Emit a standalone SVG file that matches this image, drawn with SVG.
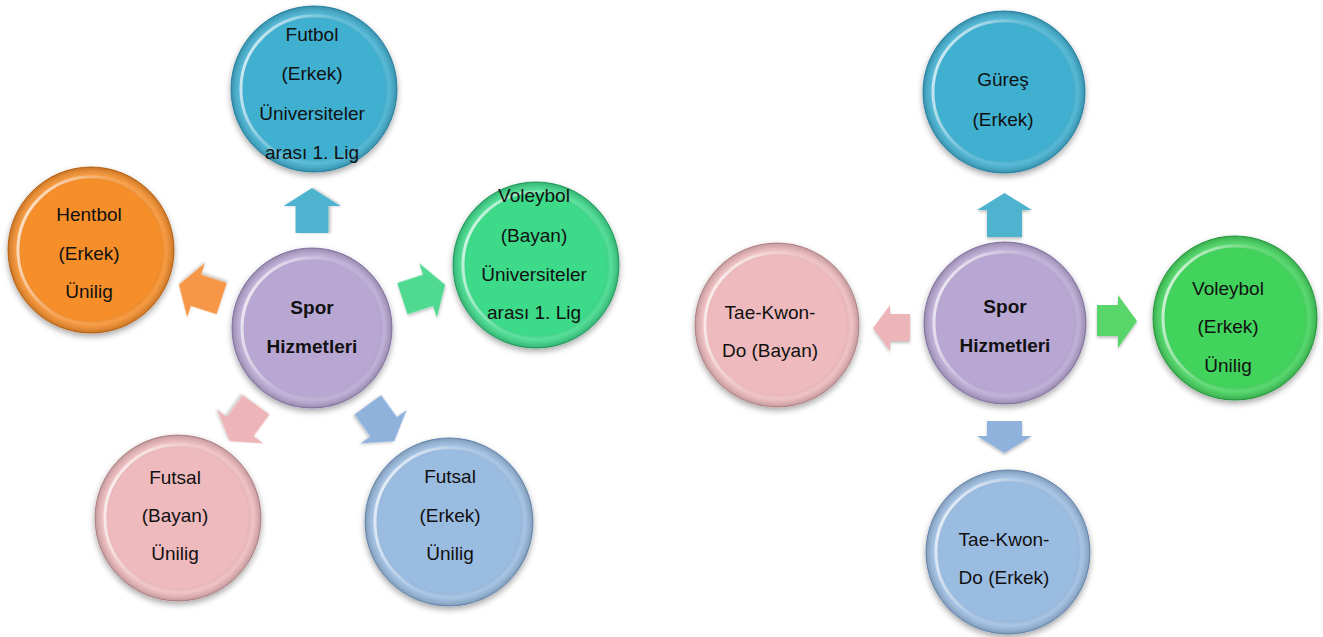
<svg xmlns="http://www.w3.org/2000/svg" width="1323" height="637" viewBox="0 0 1323 637">
<style>
text{font-family:"Liberation Sans",Arial,sans-serif;font-size:19px;fill:#111;text-anchor:middle}
.b{font-weight:bold}
.aqua{fill:#40B0D1;stroke:#2D8DAE;stroke-width:1}
.orange{fill:#F68E2C;stroke:#C86E1C;stroke-width:1}
.purple{fill:#B8A7D3;stroke:#8F7CB0;stroke-width:1}
.green1{fill:#3DDA8A;stroke:#24A866;stroke-width:1}
.green2{fill:#43D35B;stroke:#2AA543;stroke-width:1}
.pink{fill:#EEBABD;stroke:#C08F93;stroke-width:1}
.blue{fill:#9BBCE1;stroke:#6F93BD;stroke-width:1}
.rim{fill:url(#rim)}
.hl{fill:none;stroke:url(#hl);stroke-width:3}
.a-aqua{fill:#4EB3CE}
.a-orange{fill:#F79646}
.a-green1{fill:#4FD991}
.a-green2{fill:#58D66B}
.a-pink{fill:#EDB5B8}
.a-blue{fill:#8FB2DD}
.arr{filter:url(#ash)}
</style>
<defs>
<filter id="sh" x="-20%" y="-20%" width="140%" height="145%">
<feGaussianBlur in="SourceAlpha" stdDeviation="3"/>
<feOffset dy="3" result="o"/>
<feComponentTransfer><feFuncA type="linear" slope="0.35"/></feComponentTransfer>
<feMerge><feMergeNode/><feMergeNode in="SourceGraphic"/></feMerge>
</filter>
<filter id="ash" x="-30%" y="-30%" width="160%" height="160%">
<feGaussianBlur in="SourceAlpha" stdDeviation="1.5"/>
<feOffset dy="2" result="o"/>
<feComponentTransfer><feFuncA type="linear" slope="0.25"/></feComponentTransfer>
<feMerge><feMergeNode/><feMergeNode in="SourceGraphic"/></feMerge>
</filter>
<radialGradient id="rim" cx="0.5" cy="0.5" r="0.5">
<stop offset="0.84" stop-color="#000" stop-opacity="0"/>
<stop offset="0.9" stop-color="#fff" stop-opacity="0.12"/>
<stop offset="1" stop-color="#000" stop-opacity="0.18"/>
</radialGradient>
<linearGradient id="hl" x1="0" y1="0.3" x2="1" y2="0.7">
<stop offset="0" stop-color="#fff" stop-opacity="0.75"/>
<stop offset="0.45" stop-color="#fff" stop-opacity="0.15"/>
<stop offset="1" stop-color="#fff" stop-opacity="0"/>
</linearGradient>
</defs>

<g id="connectors">
<g id="left-arrows" transform="translate(312,328)">
<polygon class="arr a-aqua" transform="rotate(-90) translate(95,0)" points="0,-16.5 27,-16.5 27,-28.5 45,0 27,28.5 27,16.5 0,16.5"/>
<polygon class="arr a-green1" transform="rotate(-18) translate(95,0)" points="0,-16.5 27,-16.5 27,-28.5 45,0 27,28.5 27,16.5 0,16.5"/>
<polygon class="arr a-blue" transform="rotate(54) translate(95,0)" points="0,-16.5 27,-16.5 27,-28.5 45,0 27,28.5 27,16.5 0,16.5"/>
<polygon class="arr a-pink" transform="rotate(126) translate(95,0)" points="0,-16.5 27,-16.5 27,-28.5 45,0 27,28.5 27,16.5 0,16.5"/>
<polygon class="arr a-orange" transform="rotate(198) translate(95,0)" points="0,-16.5 27,-16.5 27,-28.5 45,0 27,28.5 27,16.5 0,16.5"/>
</g>
<g id="right-arrows">
<polygon class="arr a-aqua" points="987,237 987,210 977,210 1004.5,193 1032,210 1022,210 1022,237"/>
<polygon class="arr a-green2" points="1097,305 1118,305 1118,295 1137,321 1118,348 1118,336 1097,336"/>
<polygon class="arr a-pink" points="910,314 890,314 890,305 873,328 890,351 890,341 910,341"/>
<polygon class="arr a-blue" points="987,421 1022,421 1022,436 1032,436 1004.5,453 977,436 987,436"/>
</g>
</g>

<g id="center-left">
<circle cx="312" cy="328" r="80" class="purple" filter="url(#sh)"/>
<circle cx="312" cy="328" r="80" class="rim"/>
<circle cx="312" cy="328" r="70" class="hl"/>
<text x="312" y="314" class="b">Spor</text>
<text x="312" y="353" class="b">Hizmetleri</text>
</g>

<g id="futbol">
<circle cx="314" cy="89" r="83" class="aqua" filter="url(#sh)"/>
<circle cx="314" cy="89" r="83" class="rim"/>
<circle cx="314" cy="89" r="73" class="hl"/>
<text x="312" y="41">Futbol</text>
<text x="312" y="80">(Erkek)</text>
<text x="312" y="120">Üniversiteler</text>
<text x="312" y="159">arası 1. Lig</text>
</g>

<g id="voleybol-bayan">
<circle cx="536" cy="265" r="83" class="green1" filter="url(#sh)"/>
<circle cx="536" cy="265" r="83" class="rim"/>
<circle cx="536" cy="265" r="73" class="hl"/>
<text x="534" y="202">Voleybol</text>
<text x="534" y="242">(Bayan)</text>
<text x="534" y="281">Üniversiteler</text>
<text x="534" y="319">arası 1. Lig</text>
</g>

<g id="hentbol">
<circle cx="91" cy="250" r="83" class="orange" filter="url(#sh)"/>
<circle cx="91" cy="250" r="83" class="rim"/>
<circle cx="91" cy="250" r="73" class="hl"/>
<text x="89" y="221">Hentbol</text>
<text x="89" y="260">(Erkek)</text>
<text x="89" y="298">Ünilig</text>
</g>

<g id="futsal-bayan">
<circle cx="178" cy="518" r="83" class="pink" filter="url(#sh)"/>
<circle cx="178" cy="518" r="83" class="rim"/>
<circle cx="178" cy="518" r="73" class="hl"/>
<text x="175" y="484">Futsal</text>
<text x="175" y="522">(Bayan)</text>
<text x="175" y="560">Ünilig</text>
</g>

<g id="futsal-erkek">
<circle cx="449" cy="522" r="84" class="blue" filter="url(#sh)"/>
<circle cx="449" cy="522" r="84" class="rim"/>
<circle cx="449" cy="522" r="74" class="hl"/>
<text x="450" y="483">Futsal</text>
<text x="450" y="522">(Erkek)</text>
<text x="450" y="560">Ünilig</text>
</g>

<g id="center-right">
<circle cx="1005" cy="323" r="81" class="purple" filter="url(#sh)"/>
<circle cx="1005" cy="323" r="81" class="rim"/>
<circle cx="1005" cy="323" r="71" class="hl"/>
<text x="1005" y="313" class="b">Spor</text>
<text x="1005" y="352" class="b">Hizmetleri</text>
</g>

<g id="gures">
<circle cx="1004" cy="92" r="81" class="aqua" filter="url(#sh)"/>
<circle cx="1004" cy="92" r="81" class="rim"/>
<circle cx="1004" cy="92" r="71" class="hl"/>
<text x="1003" y="86">Güreş</text>
<text x="1003" y="126">(Erkek)</text>
</g>

<g id="taekwondo-bayan">
<circle cx="777" cy="325" r="82" class="pink" filter="url(#sh)"/>
<circle cx="777" cy="325" r="82" class="rim"/>
<circle cx="777" cy="325" r="72" class="hl"/>
<text x="770" y="319">Tae-Kwon-</text>
<text x="770" y="357">Do (Bayan)</text>
</g>

<g id="voleybol-erkek">
<circle cx="1235" cy="318" r="82" class="green2" filter="url(#sh)"/>
<circle cx="1235" cy="318" r="82" class="rim"/>
<circle cx="1235" cy="318" r="72" class="hl"/>
<text x="1228" y="295">Voleybol</text>
<text x="1228" y="333">(Erkek)</text>
<text x="1228" y="372">Ünilig</text>
</g>

<g id="taekwondo-erkek">
<circle cx="1008" cy="552" r="82" class="blue" filter="url(#sh)"/>
<circle cx="1008" cy="552" r="82" class="rim"/>
<circle cx="1008" cy="552" r="72" class="hl"/>
<text x="1004" y="546">Tae-Kwon-</text>
<text x="1004" y="584">Do (Erkek)</text>
</g>
</svg>
